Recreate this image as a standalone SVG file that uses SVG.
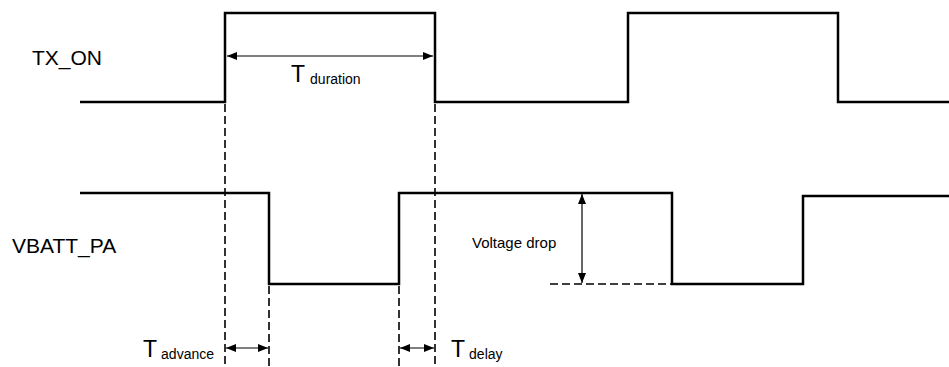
<svg xmlns="http://www.w3.org/2000/svg" width="949" height="367" viewBox="0 0 949 367">
<defs>
<marker id="ah" viewBox="0 0 10 10" refX="10" refY="5" markerWidth="10" markerHeight="10" markerUnits="userSpaceOnUse" orient="auto-start-reverse">
<path d="M0,1 L10,5 L0,9 Z" fill="#000"/>
</marker>
<style>
.sig{fill:none;stroke:#000;stroke-width:2.5;stroke-linejoin:miter}
.dash{fill:none;stroke:#000;stroke-width:1.6;stroke-dasharray:8,4}
.arr{fill:none;stroke:#000;stroke-width:1.2;marker-start:url(#ah);marker-end:url(#ah)}
.lbl{font-family:"Liberation Sans",Arial,sans-serif;fill:#000}
</style>
</defs>
<rect width="949" height="367" fill="#fff"/>
<g id="tx_on">
<polyline class="sig" points="80,102 225,102 225,13 435,13 435,102 628,102 628,13 838,13 838,102 949,102"/>
<text class="lbl" x="32" y="65" font-size="21">TX_ON</text>
</g>
<g id="vbatt_pa">
<polyline class="sig" points="80,193 269,193 269,284 399,284 399,193 672,193 672,284 803,284 803,196 949,196"/>
<text class="lbl" x="12" y="253" font-size="21">VBATT_PA</text>
</g>
<g id="connectors">
<line class="dash" x1="225" y1="104" x2="225" y2="367"/>
<line class="dash" x1="435" y1="104" x2="435" y2="367"/>
<line class="dash" x1="269" y1="286" x2="269" y2="367"/>
<line class="dash" x1="399" y1="286" x2="399" y2="367"/>
<line class="dash" x1="550" y1="284" x2="671" y2="284"/>
<line class="arr" x1="227" y1="56" x2="433" y2="56"/>
<line class="arr" x1="226" y1="348" x2="268" y2="348"/>
<line class="arr" x1="400" y1="348" x2="434" y2="348"/>
<line class="arr" x1="582" y1="194" x2="582" y2="283"/>
</g>
<g id="t_duration">
<text class="lbl" x="291" y="82" font-size="23">T<tspan font-size="14" dx="5" dy="2">duration</tspan></text>
</g>
<g id="t_advance">
<text class="lbl" x="143" y="357" font-size="23">T<tspan font-size="14" dx="4" dy="2">advance</tspan></text>
</g>
<g id="t_delay">
<text class="lbl" x="451" y="357" font-size="23">T<tspan font-size="14" dx="4" dy="2">delay</tspan></text>
</g>
<g id="voltage_drop">
<text class="lbl" x="472" y="248" font-size="15">Voltage drop</text>
</g>
</svg>
